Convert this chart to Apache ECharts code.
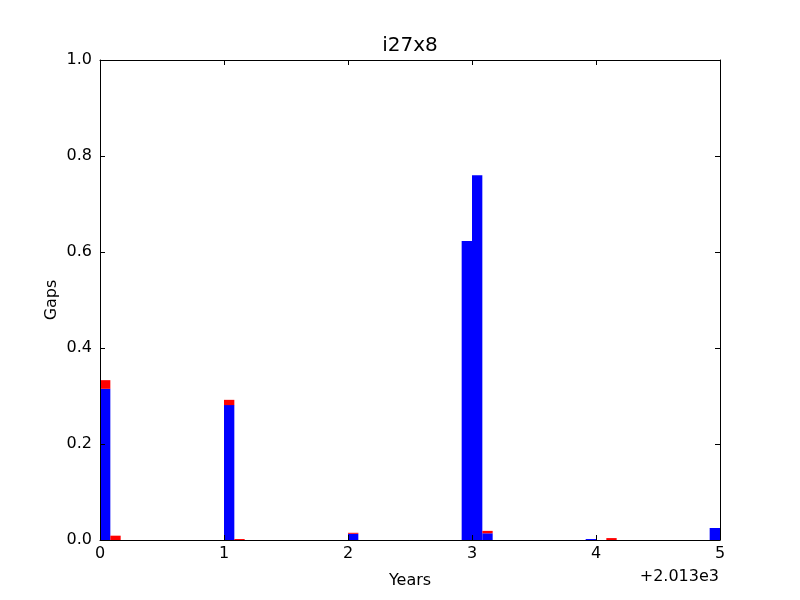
<!DOCTYPE html>
<html>
<head>
<meta charset="utf-8">
<script src="https://cdn.jsdelivr.net/npm/echarts@6/dist/echarts.min.js"></script>
<style>html,body{margin:0;padding:0;background:#fff}#c{width:800px;height:600px}</style>
</head>
<body>
<div id="c"></div>
<script>
// Monthly bins, Jan 2013 .. Dec 2017 (index 0..59)
var blueVals = [
  0.315, 0, 0, 0, 0, 0, 0, 0, 0, 0, 0, 0,
  0.281, 0, 0, 0, 0, 0, 0, 0, 0, 0, 0, 0,
  0.013, 0, 0, 0, 0, 0, 0, 0, 0, 0, 0, 0.623,
  0.760, 0.014, 0, 0, 0, 0, 0, 0, 0, 0, 0, 0.002,
  0, 0, 0, 0, 0, 0, 0, 0, 0, 0, 0, 0.025
];
var redVals = [
  0.018, 0.009, 0, 0, 0, 0, 0, 0, 0, 0, 0, 0,
  0.011, 0.002, 0, 0, 0, 0, 0, 0, 0, 0, 0, 0,
  0.002, 0, 0, 0, 0, 0, 0, 0, 0, 0, 0, 0,
  0, 0.005, 0, 0, 0, 0, 0, 0, 0, 0, 0, 0,
  0, 0.004, 0, 0, 0, 0, 0, 0, 0, 0, 0, 0
];
var startYear = 2013;
var titleText = 'i27x8';
var xName = 'Years';
var yName = 'Gaps';
var offsetText = '+2.013e3';

var data = blueVals.map(function (b, i) { return [i, b, redVals[i]]; });

var font = 'DejaVu Sans';
var chart = echarts.init(document.getElementById('c'), null, {renderer: 'canvas'});
var tickStyle = {show: true, inside: true, length: 5, lineStyle: {color: '#000', width: 1}};
chart.setOption({
  animation: false,
  backgroundColor: '#fff',
  grid: {left: 100, right: 80, top: 60, bottom: 60, show: false},
  xAxis: [{
    type: 'value', min: startYear, max: startYear + 5, interval: 1, z: 10,
    name: xName, nameLocation: 'middle', nameGap: 33, nameMoveOverlap: false,
    nameTextStyle: {fontFamily: font, fontSize: 16, color: '#000'},
    axisLine: {show: true, onZero: false, lineStyle: {color: '#000', width: 1}},
    axisTick: tickStyle,
    splitLine: {show: false},
    axisLabel: {margin: 6, fontFamily: font, fontSize: 16, color: '#000',
      formatter: function (v) { return String(Math.round(v - startYear)); }}
  }, {
    type: 'value', position: 'top', min: startYear, max: startYear + 5, interval: 1, z: 10,
    axisLine: {show: true, onZero: false, lineStyle: {color: '#000', width: 1}},
    axisTick: tickStyle, axisLabel: {show: false}, splitLine: {show: false}
  }],
  yAxis: [{
    type: 'value', min: 0, max: 1, interval: 0.2, z: 10,
    name: yName, nameLocation: 'middle', nameGap: 40, nameRotate: 90, nameMoveOverlap: false,
    nameTextStyle: {fontFamily: font, fontSize: 16, color: '#000'},
    axisLine: {show: true, onZero: false, lineStyle: {color: '#000', width: 1}},
    axisTick: tickStyle,
    splitLine: {show: false},
    axisLabel: {margin: 8, fontFamily: font, fontSize: 16, color: '#000',
      formatter: function (v) { return v.toFixed(1); }}
  }, {
    type: 'value', position: 'right', min: 0, max: 1, interval: 0.2, z: 10,
    axisLine: {show: true, onZero: false, lineStyle: {color: '#000', width: 1}},
    axisTick: tickStyle, axisLabel: {show: false}, splitLine: {show: false}
  }],
  graphic: [{
    type: 'text', x: 410, y: 36,
    style: {text: titleText, font: '20px "DejaVu Sans"', fill: '#000', textAlign: 'center', textVerticalAlign: 'top'}
  }, {
    type: 'text', right: 81, top: 569,
    style: {text: offsetText, font: '16px "DejaVu Sans"', fill: '#000'}
  }],
  series: [{
    type: 'custom',
    xAxisIndex: 0, yAxisIndex: 0,
    encode: {x: 0, y: 1},
    data: data,
    renderItem: function (params, api) {
      var i = api.value(0), b = api.value(1), r = api.value(2);
      var x0 = startYear + i / 12, x1 = startYear + (i + 1) / 12;
      var p0 = api.coord([x0, 0]);
      var p1 = api.coord([x1, b]);
      var p2 = api.coord([x1, b + r]);
      var children = [];
      if (b > 0) children.push({type: 'rect', shape: {x: p0[0], y: p1[1], width: p1[0] - p0[0], height: p0[1] - p1[1]}, style: {fill: '#0000ff'}});
      if (r > 0) children.push({type: 'rect', shape: {x: p0[0], y: p2[1], width: p1[0] - p0[0], height: p1[1] - p2[1]}, style: {fill: '#ff0000'}});
      return {type: 'group', children: children};
    }
  }]
});
</script>
</body>
</html>
